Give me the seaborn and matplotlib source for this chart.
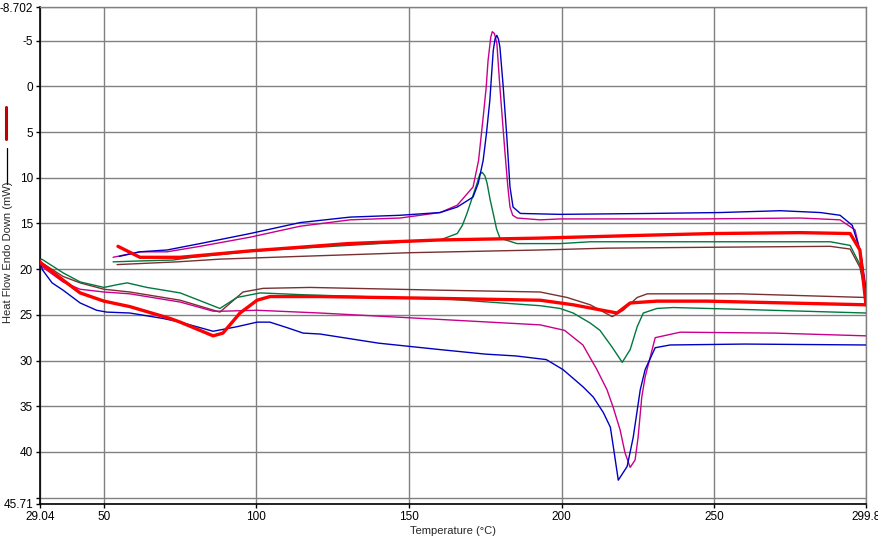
import matplotlib
matplotlib.use("Agg")
import matplotlib.pyplot as plt
from matplotlib.lines import Line2D
from matplotlib.ticker import FixedLocator
import seaborn as sns
import pandas as pd

# ---------------- data ----------------
# heating scans (lower group)
blue_heat_x = [29.04, 29.9, 33, 36.6, 42.2, 47.6, 50.9, 58.5, 69.4, 75, 85.8, 93.6, 100.2, 104.4, 110, 115.3,
               120.8, 140, 160, 175, 185, 195, 200.5, 207.1, 210.4, 213.7, 216, 217, 218.6, 221.5, 223.5,
               225.8, 227.4, 230.7, 235.6, 260, 299.8]
blue_heat_y = [19.3, 20.1, 21.5, 22.3, 23.7, 24.5, 24.7, 24.8, 25.4, 25.8, 26.8, 26.3, 25.8, 25.8, 26.4, 27.0,
               27.1, 28.1, 28.8, 29.3, 29.5, 29.9, 31.0, 32.9, 34.0, 35.7, 37.3, 39.5, 43.1, 41.6, 38.4,
               33.2, 31.0, 28.6, 28.3, 28.2, 28.3]

magenta_heat_x = [29.04, 29.6, 36.6, 42.2, 50, 58.5, 75, 85.8, 89, 100.2, 120.8, 160, 193, 201, 207, 211.6,
                  214.9, 216.9, 219.2, 220.8, 222.5, 224.1, 225.1, 226.3, 227.4, 230.7, 238.9, 270, 299.8]
magenta_heat_y = [19.5, 19.7, 21.4, 22.2, 22.5, 22.7, 23.6, 24.6, 24.6, 24.5, 24.8, 25.5, 26.1, 26.7, 28.3, 31.0,
                  33.2, 35.1, 37.6, 40.1, 41.7, 40.9, 38.4, 34.0, 31.8, 27.5, 26.9, 27.0, 27.3]

green_heat_x = [29.04, 29.6, 36.6, 42.2, 50, 54.3, 57.6, 64.1, 75, 88, 93.6, 101.2, 115.3, 163.5, 193, 199.5,
                203.8, 209.4, 212.6, 216.5, 219.9, 222.5, 224.8, 226.8, 231.3, 236.6, 258.6, 299.8]
green_heat_y = [19.0, 18.9, 20.4, 21.4, 22.0, 21.7, 21.5, 22.0, 22.6, 24.3, 23.1, 22.6, 22.8, 23.3, 24.0, 24.3,
                24.8, 25.9, 26.7, 28.5, 30.2, 28.8, 26.3, 24.8, 24.3, 24.2, 24.4, 24.8]

brown_heat_x = [29.04, 29.6, 36.6, 42.2, 50, 58.5, 75, 88, 95.6, 102.2, 117.6, 160, 193, 201.8, 209.4, 216.6,
                220.2, 224.8, 228.1, 258.6, 299.8]
brown_heat_y = [19.2, 19.3, 20.8, 21.5, 22.2, 22.5, 23.4, 24.7, 22.5, 22.1, 22.0, 22.3, 22.5, 23.1, 23.9, 25.2,
                24.5, 23.1, 22.7, 22.7, 23.1]

red_heat_x = [29.04, 29.6, 36.6, 42.2, 50, 58.5, 71.7, 75, 85.8, 89, 94.6, 100.2, 104.4, 120.8, 160, 193,
              203.8, 218.2, 222.5, 231.3, 247.7, 299.8]
red_heat_y = [19.2, 19.4, 21.2, 22.6, 23.5, 24.1, 25.4, 25.8, 27.3, 27.0, 24.8, 23.4, 23.0, 23.0, 23.2, 23.4,
              23.9, 24.8, 23.7, 23.5, 23.5, 23.9]

# cooling scans (upper group)
blue_cool_x = [55, 61.8, 70.7, 81.5, 97.9, 114.3, 130.7, 147.1, 160.2, 165.8, 171, 172.7, 174.3, 175.4, 176.5,
               177.6, 178.2, 178.8, 179.3, 179.8, 180.8, 182, 183.1, 184.1, 186.5, 199.5, 229, 252, 271.7,
               284.8, 291.3, 295.3, 297.8, 299.8]
blue_cool_y = [18.6, 18.1, 17.9, 17.2, 16.1, 14.9, 14.3, 14.1, 13.8, 13.2, 12.1, 10.6, 8.1, 5.1, 1.5,
               -3.9, -5.2, -5.6, -5.2, -4.3, -0.3, 5.2, 11.0, 13.2, 13.9, 14.0, 13.9, 13.8, 13.6,
               13.8, 14.1, 15.2, 17.9, 22.3]

magenta_cool_x = [53.0, 61.8, 70.7, 81.5, 97.9, 114.3, 130.7, 147.1, 160.2, 165.8, 171, 172.8, 174.3, 175.3,
                  175.9, 176.8, 177.3, 178, 178.8, 179.8, 181.4, 182.4, 183.1, 184, 185.4, 193, 199.5, 245.4,
                  278.2, 291.3, 296.2, 298.5, 299.8]
magenta_cool_y = [18.7, 18.1, 18.1, 17.5, 16.5, 15.3, 14.6, 14.4, 13.8, 13.0, 11.0, 8.1, 3.4, 0.1,
                  -2.8, -5.4, -6.0, -5.8, -4.7, 0.1, 7.0, 11.0, 13.2, 14.1, 14.4, 14.6, 14.5, 14.5,
                  14.4, 14.6, 15.7, 19.0, 22.3]

green_cool_x = [53.0, 61.8, 72.6, 79.2, 100, 130, 160.2, 165.8, 167.5, 169, 172.3, 173.2, 174, 174.9, 175.6,
                176.6, 177.6, 178.7, 179.8, 185.4, 199.5, 209.4, 249.7, 288.1, 294.6, 297.8, 299.8]
green_cool_y = [19.2, 19.1, 19.0, 18.7, 18.0, 17.4, 16.8, 16.1, 15.2, 13.9, 10.6, 9.6, 9.4, 9.8, 10.6,
                12.4, 13.9, 15.6, 16.6, 17.2, 17.2, 17.0, 17.0, 17.0, 17.4, 19.5, 22.5]

brown_cool_x = [54.3, 74, 88.1, 114.3, 150, 193, 214.9, 249.7, 288.1, 294.6, 297.8, 299.8]
brown_cool_y = [19.5, 19.2, 18.9, 18.6, 18.2, 17.9, 17.7, 17.6, 17.5, 17.8, 19.8, 23.0]

red_cool_x = [54.6, 61.8, 75, 97.9, 114.3, 130, 160.2, 193, 225.8, 249.7, 278.2, 294.6, 297.8, 299.8]
red_cool_y = [17.5, 18.7, 18.7, 18.0, 17.6, 17.2, 16.8, 16.6, 16.3, 16.1, 16.0, 16.1, 17.9, 23.9]

x_ticks = [29.04, 50, 100, 150, 200, 250, 299.8]
x_tick_labels = ["29.04", "50", "100", "150", "200", "250", "299.8"]
y_ticks = [-8.702, -5, 0, 5, 10, 15, 20, 25, 30, 35, 40, 45.71]
y_tick_labels = ["-8.702", "-5", "0", "5", "10", "15", "20", "25", "30", "35", "40", "45.71"]
y_limits = (45.71, -8.702)
x_limits = (29.04, 299.8)

# ---------------- styling ----------------
sns.set_style("white")
plt.rcParams['font.family'] = ['Liberation Sans', 'DejaVu Sans']
plt.rcParams['font.size'] = 8

BLUE = "#0000c0"
MAGENTA = "#c8008c"
GREEN = "#007840"
BROWN = "#7a3030"
RED = "#ff0000"
GRID = "#808080"

fig = plt.figure(figsize=(8.79, 5.40), dpi=100)
ax = fig.add_axes([40 / 879, 1 - 504 / 540, (866 - 40) / 879, (504 - 7) / 540])

curves = [
    (brown_heat_x, brown_heat_y, BROWN, 1.0),
    (brown_cool_x, brown_cool_y, BROWN, 1.0),
    (green_heat_x, green_heat_y, GREEN, 1.0),
    (green_cool_x, green_cool_y, GREEN, 1.0),
    (magenta_heat_x, magenta_heat_y, MAGENTA, 1.0),
    (magenta_cool_x, magenta_cool_y, MAGENTA, 1.0),
    (blue_heat_x, blue_heat_y, BLUE, 1.0),
    (blue_cool_x, blue_cool_y, BLUE, 1.0),
    (red_heat_x, red_heat_y, RED, 2.4),
    (red_cool_x, red_cool_y, RED, 2.4),
]
for xs, ys, col, lw in curves:
    df = pd.DataFrame({"T": xs, "HF": ys})
    sns.lineplot(data=df, x="T", y="HF", ax=ax, color=col, linewidth=lw,
                 sort=False, estimator=None, zorder=3)

ax.set_xlim(*x_limits)
ax.set_ylim(*y_limits)
ax.set_xticks(x_ticks)
ax.set_xticklabels(x_tick_labels)
ax.set_yticks(y_ticks)
ax.set_yticklabels(y_tick_labels)
ax.yaxis.set_minor_locator(FixedLocator([45]))
ax.grid(True, which="both", color=GRID, linewidth=1.0, zorder=0)
ax.set_axisbelow(True)
ax.tick_params(axis="both", which="both", direction="out", length=3, width=1,
               color="black", labelsize=8.5, labelcolor="black", pad=2, left=True, bottom=True)
ax.tick_params(axis="y", which="minor", length=3)

for side in ["left", "bottom"]:
    ax.spines[side].set_color("black")
    ax.spines[side].set_linewidth(1.2)
for side in ["top", "right"]:
    ax.spines[side].set_color(GRID)
    ax.spines[side].set_linewidth(1.0)

ax.set_xlabel("Temperature (°C)", fontsize=8, labelpad=2)
ax.set_ylabel("")

# vertical y label with legend-like line markers
fig.text(8 / 879, 1 - 252 / 540, "Heat Flow Endo Down (mW)", rotation=90,
         ha="center", va="center", fontsize=8)
fig.add_artist(Line2D([6 / 879, 6 / 879], [1 - 107 / 540, 1 - 139 / 540],
                      color="#c00000", linewidth=2.2, transform=fig.transFigure))
fig.add_artist(Line2D([7.5 / 879, 7.5 / 879], [1 - 148 / 540, 1 - 184 / 540],
                      color="black", linewidth=0.9, transform=fig.transFigure))

fig.savefig("out.png", dpi=100)
